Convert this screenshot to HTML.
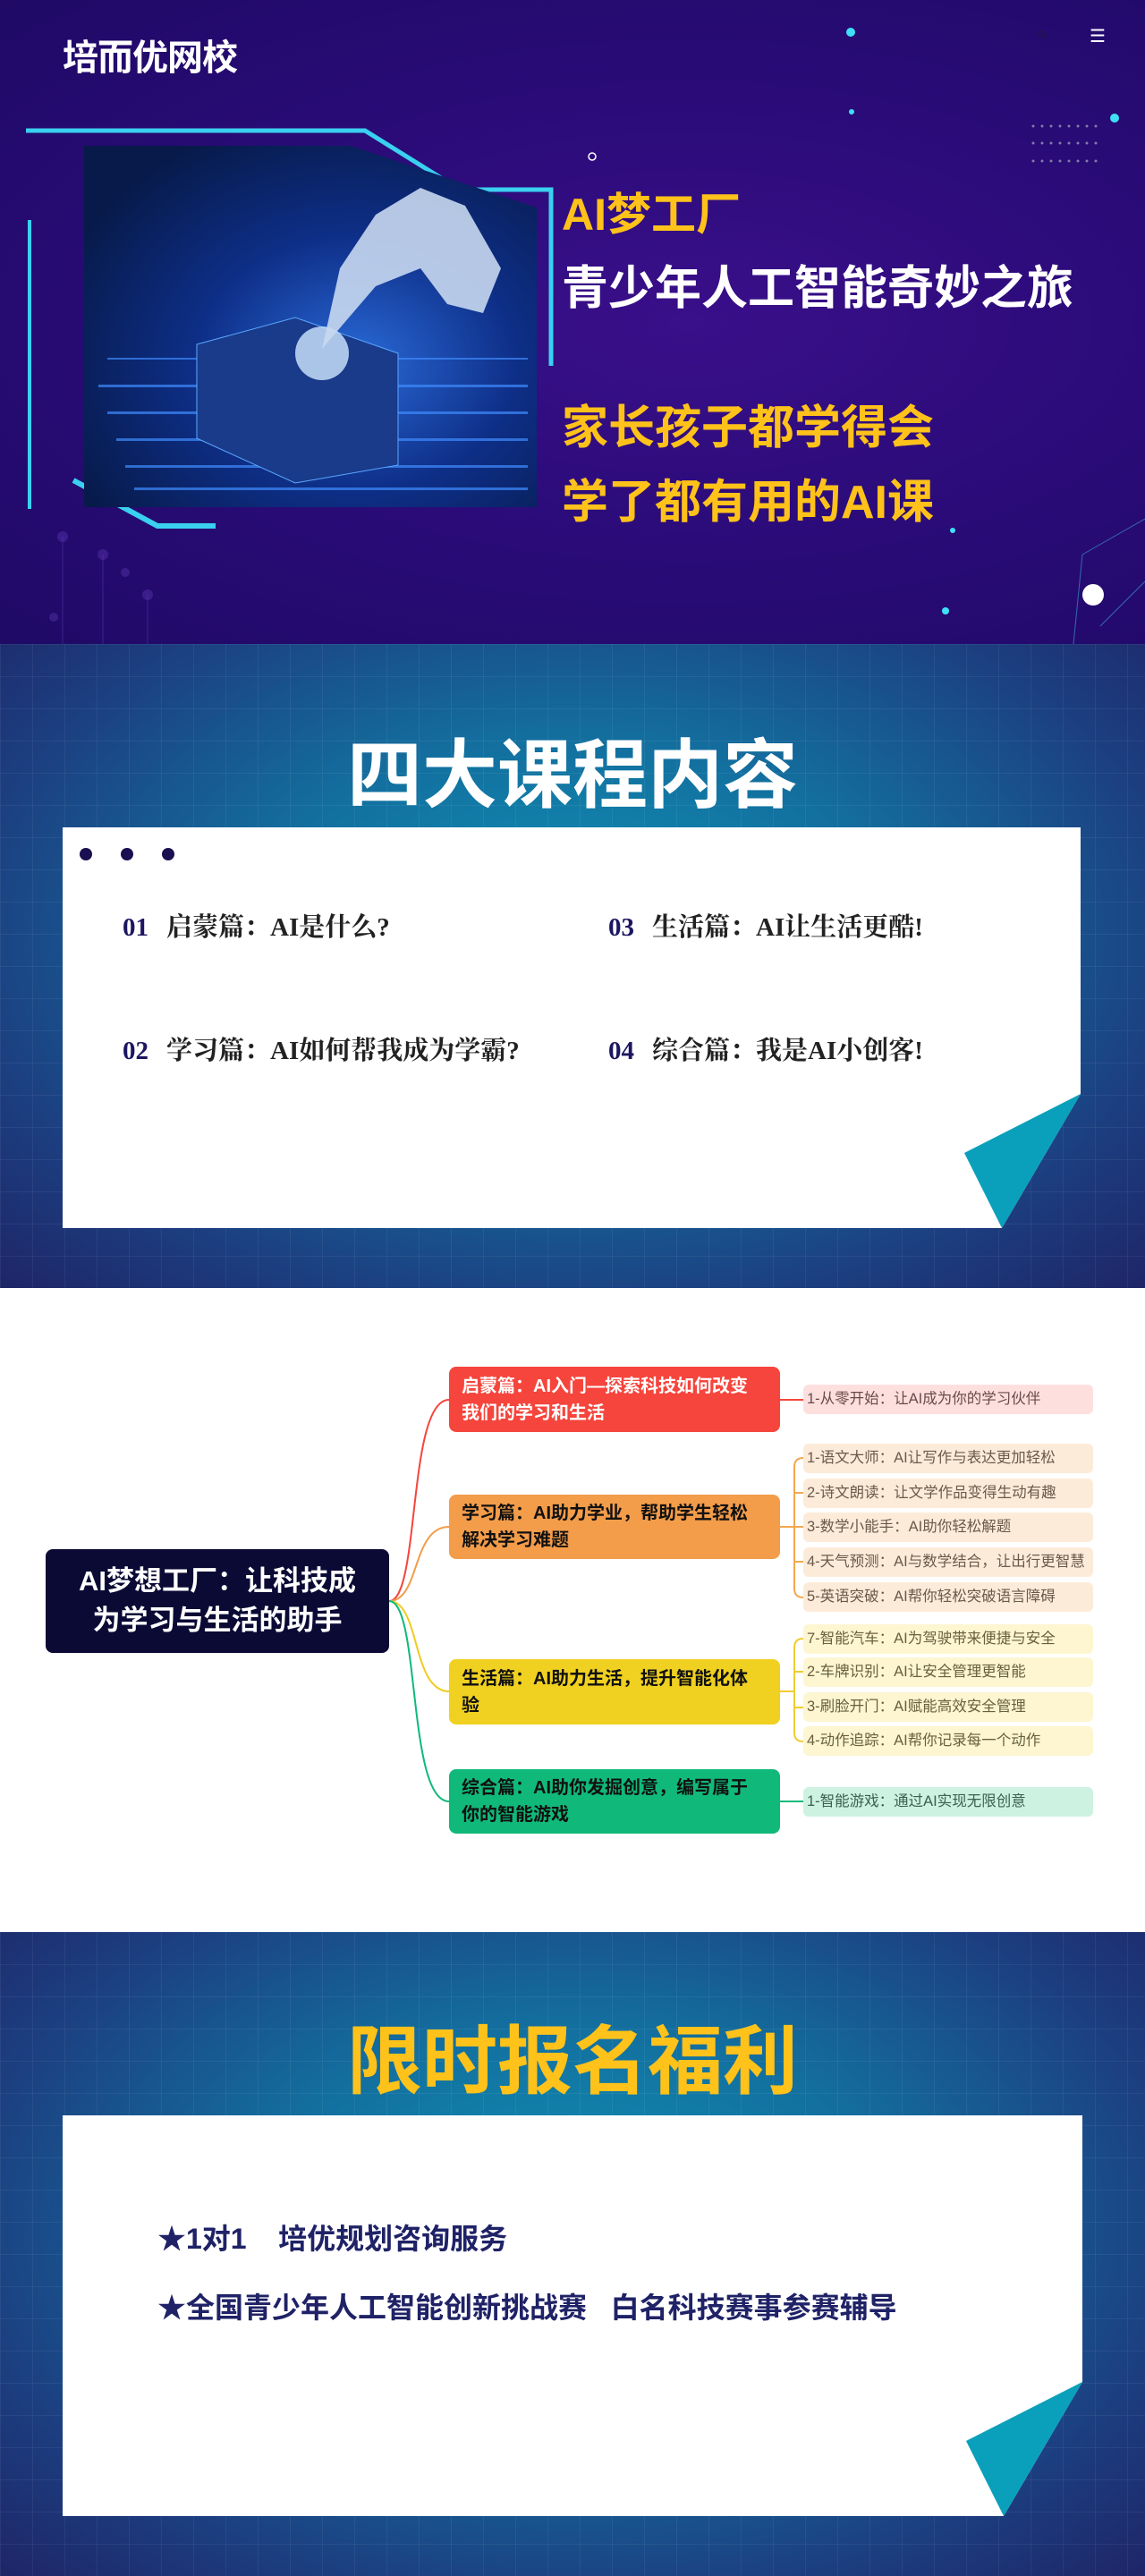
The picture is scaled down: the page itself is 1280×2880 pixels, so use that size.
<!DOCTYPE html>
<html><head><meta charset="utf-8">
<style>
*{margin:0;padding:0;box-sizing:border-box}
body{width:1280px;height:2880px;position:relative;overflow:hidden;font-family:"Liberation Sans","Noto Sans CJK SC",sans-serif;background:#fff}
.abs{position:absolute}
.hero{left:0;top:0;width:1280px;height:720px;background:radial-gradient(ellipse at 60% 50%,#3a0f8a 0%,#2a0b78 50%,#1f0a66 100%);overflow:hidden}
.blue{width:1280px;height:720px;background:radial-gradient(ellipse at 50% 45%,#0e93b6 0%,#136e9e 40%,#1c3f80 75%,#1e2567 100%);overflow:hidden}
.grid{position:absolute;inset:0;background-image:linear-gradient(rgba(255,255,255,.06) 1px,transparent 1px),linear-gradient(90deg,rgba(255,255,255,.06) 1px,transparent 1px);background-size:36px 36px}
.t{font-weight:bold;white-space:nowrap}
.item{font-family:"Liberation Serif","Noto Serif CJK SC",serif;font-weight:bold;font-size:29px;color:#222;white-space:nowrap}
.item b{color:#1c1660;margin-right:20px}
.br{position:absolute;left:502px;width:370px;border-radius:8px;padding:6px 36px 6px 14px;font-weight:bold;font-size:20px;line-height:30px;color:#111;display:flex;align-items:center}
.lf{position:absolute;left:898px;width:324px;height:33px;border-radius:6px;font-size:16.5px;line-height:33px;padding-left:4px;white-space:nowrap;overflow:hidden}
.ben{font-weight:bold;font-size:32px;color:#1f2266;white-space:nowrap}
</style></head><body>

<div class="abs hero">
  <svg class="abs" style="left:0;top:0" width="1280" height="720">
    <g fill="#6a3fc0" opacity=".35">
      <circle cx="70" cy="600" r="6"/><circle cx="115" cy="620" r="6"/><circle cx="140" cy="640" r="5"/><circle cx="165" cy="665" r="6"/><circle cx="60" cy="690" r="5"/>
    </g>
    <g stroke="#5a3ab0" stroke-width="1" opacity=".5"><line x1="70" y1="600" x2="70" y2="720"/><line x1="115" y1="620" x2="115" y2="720"/><line x1="165" y1="665" x2="165" y2="720"/></g>
    <g fill="#3fe0f5"><circle cx="951" cy="36" r="5"/><circle cx="952" cy="125" r="3"/><circle cx="1246" cy="132" r="5"/><circle cx="1065" cy="593" r="3"/><circle cx="1057" cy="683" r="4"/></g>
    <circle cx="1222" cy="665" r="12" fill="#fff"/>
    <circle cx="662" cy="175" r="4" fill="none" stroke="#fff" stroke-width="1.5"/>
    <g fill="#aab" opacity=".7">
      <circle cx="1155" cy="141" r="1.5"/><circle cx="1165" cy="141" r="1.5"/><circle cx="1175" cy="141" r="1.5"/><circle cx="1185" cy="141" r="1.5"/><circle cx="1195" cy="141" r="1.5"/><circle cx="1205" cy="141" r="1.5"/><circle cx="1215" cy="141" r="1.5"/><circle cx="1225" cy="141" r="1.5"/>
      <circle cx="1155" cy="160" r="1.5"/><circle cx="1165" cy="160" r="1.5"/><circle cx="1175" cy="160" r="1.5"/><circle cx="1185" cy="160" r="1.5"/><circle cx="1195" cy="160" r="1.5"/><circle cx="1205" cy="160" r="1.5"/><circle cx="1215" cy="160" r="1.5"/><circle cx="1225" cy="160" r="1.5"/>
      <circle cx="1155" cy="180" r="1.5"/><circle cx="1165" cy="180" r="1.5"/><circle cx="1175" cy="180" r="1.5"/><circle cx="1185" cy="180" r="1.5"/><circle cx="1195" cy="180" r="1.5"/><circle cx="1205" cy="180" r="1.5"/><circle cx="1215" cy="180" r="1.5"/><circle cx="1225" cy="180" r="1.5"/>
    </g>
    <g stroke="#3fa8d8" stroke-width="1" opacity=".6"><line x1="1210" y1="620" x2="1280" y2="580"/><line x1="1210" y1="620" x2="1200" y2="720"/><line x1="1230" y1="700" x2="1280" y2="650"/></g>
    <!-- frame -->
    <polyline points="29,146 408,146 514,212 616,212 616,409" fill="none" stroke="#3ad0f0" stroke-width="5"/>
    <line x1="33" y1="246" x2="33" y2="569" stroke="#3ad0f0" stroke-width="4"/>
    <polyline points="82,537 176,588 241,588" fill="none" stroke="#3ad0f0" stroke-width="6"/>
    <!-- image -->
    <defs>
      <radialGradient id="ig" cx="60%" cy="60%" r="70%"><stop offset="0" stop-color="#2a6ad8"/><stop offset=".5" stop-color="#0e2f88"/><stop offset="1" stop-color="#071a4a"/></radialGradient>
      <clipPath id="ic"><polygon points="94,163 392,163 600,232 600,567 94,567"/></clipPath>
    </defs>
    <g clip-path="url(#ic)">
      <rect x="94" y="163" width="507" height="404" fill="url(#ig)"/>
      <g fill="#3f8cff" opacity=".7">
        <rect x="110" y="430" width="480" height="3"/><rect x="120" y="460" width="470" height="3"/><rect x="130" y="490" width="460" height="3"/><rect x="140" y="520" width="450" height="3"/><rect x="150" y="545" width="440" height="3"/><rect x="120" y="400" width="470" height="2"/>
      </g>
      <polygon points="220,385 330,355 445,395 445,520 330,540 220,490" fill="#1a3a8a" stroke="#5aa8ff"/>
      <circle cx="360" cy="395" r="30" fill="#cfe8ff" opacity=".8"/>
      <path d="M360,390 L380,300 L420,240 L470,210 L520,230 L560,300 L540,350 L500,340 L470,300 L420,320 Z" fill="#c8d8f0" opacity=".9"/>
    </g>
  </svg>
  <div class="abs t" style="left:70px;top:32px;font-size:40px;color:#fff;letter-spacing:-1px">培而优网校</div>
  <div class="abs" style="left:1160px;top:30px;color:#222;font-size:16px">○</div>
  <div class="abs" style="left:1218px;top:28px;color:#fff;font-size:20px">☰</div>
  <div class="abs t" style="left:628px;top:200px;font-size:50px;color:#ffc21a">AI梦工厂</div>
  <div class="abs t" style="left:628px;top:280px;font-size:52px;color:#fff">青少年人工智能奇妙之旅</div>
  <div class="abs t" style="left:628px;top:436px;font-size:52px;color:#ffc21a">家长孩子都学得会</div>
  <div class="abs t" style="left:628px;top:519px;font-size:52px;color:#ffc21a">学了都有用的AI课</div>
</div>

<div class="abs blue" style="left:0;top:720px">
  <div class="grid"></div>
  <div class="abs t" style="left:0;width:1280px;text-align:center;top:80px;font-size:84px;color:#fff">四大课程内容</div>
  <svg class="abs" style="left:0;top:0" width="1280" height="720">
    <polygon points="70,205 1208,205 1208,503 1120,653 70,653" fill="#fff"/>
    <polygon points="1208,503 1078,569 1120,653" fill="#0aa0bb"/>
    <circle cx="96" cy="235" r="7" fill="#1a0f50"/><circle cx="142" cy="235" r="7" fill="#1a0f50"/><circle cx="188" cy="235" r="7" fill="#1a0f50"/>
  </svg>
  <div class="abs item" style="left:137px;top:294px"><b>01</b>启蒙篇：AI是什么?</div>
  <div class="abs item" style="left:680px;top:294px"><b>03</b>生活篇：AI让生活更酷!</div>
  <div class="abs item" style="left:137px;top:432px"><b>02</b>学习篇：AI如何帮我成为学霸?</div>
  <div class="abs item" style="left:680px;top:432px"><b>04</b>综合篇：我是AI小创客!</div>
</div>

<!-- mind map -->
<svg class="abs" style="left:0;top:1438px" width="1280" height="720" fill="none" stroke-width="2">
  <g transform="translate(0,-1438)">
    <path d="M435,1790 C470,1790 455,1565 502,1565" stroke="#f5453c"/>
    <path d="M435,1790 C470,1790 460,1707 502,1707" stroke="#f39c4a"/>
    <path d="M435,1790 C470,1790 460,1891 502,1891" stroke="#f0cc20"/>
    <path d="M435,1790 C470,1790 455,2014 502,2014" stroke="#10b97a"/>
    <path d="M872,1565 L898,1565" stroke="#f5453c"/>
    <g stroke="#f3a850"><path d="M872,1707 L888,1707"/><path d="M888,1707 L888,1640 Q888,1630 898,1630"/><path d="M888,1669 L898,1669"/><path d="M888,1707 L898,1707"/><path d="M888,1707 L888,1776 Q888,1786 898,1786"/><path d="M888,1746 L898,1746"/></g>
    <g stroke="#f0cc30"><path d="M872,1891 L888,1891"/><path d="M888,1891 L888,1842 Q888,1832 898,1832"/><path d="M888,1869 L898,1869"/><path d="M888,1891 L888,1937 Q888,1947 898,1947"/><path d="M888,1909 L898,1909"/></g>
    <path d="M872,2014 L898,2014" stroke="#10b97a"/>
  </g>
</svg>
<div class="abs" style="left:51px;top:1732px;width:384px;height:116px;background:#0a0a35;border-radius:8px;color:#fff;font-weight:bold;font-size:31px;line-height:44px;text-align:center;padding-top:14px">AI梦想工厂：让科技成<br>为学习与生活的助手</div>
<div class="br" style="top:1528px;height:73px;background:#f5453c;color:#fff">启蒙篇：AI入门—探索科技如何改变我们的学习和生活</div>
<div class="br" style="top:1671px;height:72px;background:#f39c4a">学习篇：AI助力学业，帮助学生轻松解决学习难题</div>
<div class="br" style="top:1855px;height:73px;background:#f0d020">生活篇：AI助力生活，提升智能化体验</div>
<div class="br" style="top:1978px;height:72px;background:#10b97a">综合篇：AI助你发掘创意，编写属于你的智能游戏</div>
<div class="lf" style="top:1548px;background:#fde0de;color:#6a4a4a">1-从零开始：让AI成为你的学习伙伴</div>
<div class="lf" style="top:1614px;background:#fdebd9;color:#6a5a4a">1-语文大师：AI让写作与表达更加轻松</div>
<div class="lf" style="top:1653px;background:#fdebd9;color:#6a5a4a">2-诗文朗读：让文学作品变得生动有趣</div>
<div class="lf" style="top:1691px;background:#fdebd9;color:#6a5a4a">3-数学小能手：AI助你轻松解题</div>
<div class="lf" style="top:1730px;background:#fdebd9;color:#6a5a4a">4-天气预测：AI与数学结合，让出行更智慧</div>
<div class="lf" style="top:1769px;background:#fdebd9;color:#6a5a4a">5-英语突破：AI帮你轻松突破语言障碍</div>
<div class="lf" style="top:1816px;background:#fdf6d0;color:#6a6040">7-智能汽车：AI为驾驶带来便捷与安全</div>
<div class="lf" style="top:1853px;background:#fdf6d0;color:#6a6040">2-车牌识别：AI让安全管理更智能</div>
<div class="lf" style="top:1892px;background:#fdf6d0;color:#6a6040">3-刷脸开门：AI赋能高效安全管理</div>
<div class="lf" style="top:1930px;background:#fdf6d0;color:#6a6040">4-动作追踪：AI帮你记录每一个动作</div>
<div class="lf" style="top:1998px;background:#cdf2e2;color:#3a6050">1-智能游戏：通过AI实现无限创意</div>

<div class="abs blue" style="left:0;top:2160px">
  <div class="grid"></div>
  <div class="abs t" style="left:0;width:1280px;text-align:center;top:78px;font-size:84px;color:#ffc21a">限时报名福利</div>
  <svg class="abs" style="left:0;top:0" width="1280" height="720">
    <polygon points="70,205 1210,205 1210,503 1122,653 70,653" fill="#fff"/>
    <polygon points="1210,503 1080,569 1122,653" fill="#0aa0bb"/>
  </svg>
  <div class="abs ben" style="left:176px;top:318px">★1对1&nbsp;&nbsp;&nbsp;&nbsp;培优规划咨询服务</div>
  <div class="abs ben" style="left:176px;top:395px">★全国青少年人工智能创新挑战赛&nbsp;&nbsp;&nbsp;白名科技赛事参赛辅导</div>
</div>
</body></html>
